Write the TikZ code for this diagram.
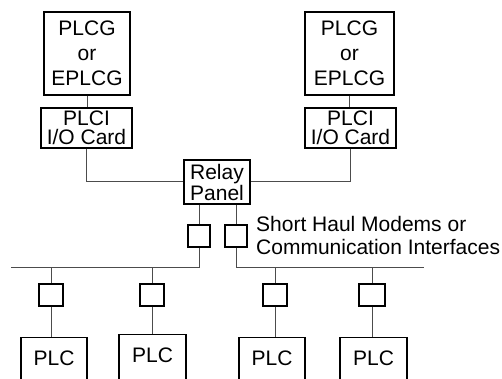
\documentclass[tikz,border=0pt]{standalone}
\usepackage{fontspec}
\setmainfont{Liberation Sans}
\tikzset{
  box/.style={draw=black, line width=1.2pt, inner sep=0pt, align=center},
  gbox/.style={box, minimum height=83pt, font=\fontsize{21}{25}\selectfont},
  ibox/.style={box, minimum width=91pt, minimum height=40pt, font=\fontsize{21}{19.5}\selectfont},
  rbox/.style={box, minimum width=66pt, minimum height=44pt, font=\fontsize{21}{21}\selectfont},
  modem/.style={box, minimum width=23pt, minimum height=22pt},
  plcbox/.style={box, anchor=north, minimum width=66pt, text height=28pt, text depth=40pt, font=\fontsize{21}{24}\selectfont},
  conn/.style={draw=black!70, line width=1pt},
  lbl/.style={inner sep=0pt, align=left, anchor=north west, font=\fontsize{21}{23}\selectfont}
}
\begin{document}
\begin{tikzpicture}[x=1pt, y=-1pt]
\useasboundingbox (0,0) rectangle (502,379);
\clip (0,0) rectangle (502,379);
% top units
\node[gbox, minimum width=86pt] (g1) at (87,53.5) {PLCG\\or\\EPLCG};
\node[ibox] (i1) at (86.5,128) {PLCI\\I/O Card};
\node[gbox, minimum width=89pt] (g2) at (349.5,53.5) {PLCG\\or\\EPLCG};
\node[ibox] (i2) at (350.5,128) {PLCI\\I/O Card};
\node[rbox] (relay) at (217,182) {Relay\\Panel};
% modems below relay
\node[modem, minimum width=22pt] (ma) at (199,236) {};
\node[modem, minimum width=22pt] (mb) at (236,236) {};
\coordinate (busL) at (11,267);
\coordinate (busR) at (424,267);
% drop modems
\node[modem, minimum width=24pt] (m1) at (51,295) {};
\node[modem, minimum width=24pt] (m2) at (152,295) {};
\node[modem, minimum width=24pt] (m3) at (275,295) {};
\node[modem, minimum width=26pt] (m4) at (372,295) {};
% PLCs
\node[plcbox] (p1) at (54,337) {PLC};
\node[plcbox, minimum width=67pt] (p2) at (152.5,334) {PLC};
\node[plcbox] (p3) at (272,337) {PLC};
\node[plcbox, minimum width=67pt] (p4) at (373.5,337) {PLC};
% label
\node[lbl] (note) at (256,216.5) {Short Haul Modems or\\Communication Interfaces};
% connectors
\draw[conn] (g1.south) -- (g1.south |- i1.north);
\draw[conn] (g2.south) -- (g2.south |- i2.north);
\draw[conn] (i1.south) |- (relay.west);
\draw[conn] (i2.south) |- (relay.east);
\draw[conn] (relay.south -| ma.north) -- (ma.north);
\draw[conn] (relay.south -| mb.north) -- (mb.north);
\draw[conn] (ma.south) -- (ma.south |- busL) -- (busL);
\draw[conn] (mb.south) -- (mb.south |- busR) -- (busR);
\foreach \m/\p/\b in {m1/p1/busL, m2/p2/busL, m3/p3/busR, m4/p4/busR} {
  \draw[conn] (\m.north |- \b) -- (\m.north);
  \draw[conn] (\m.south) -- (\m.south |- \p.north);
}
\end{tikzpicture}
\end{document}
